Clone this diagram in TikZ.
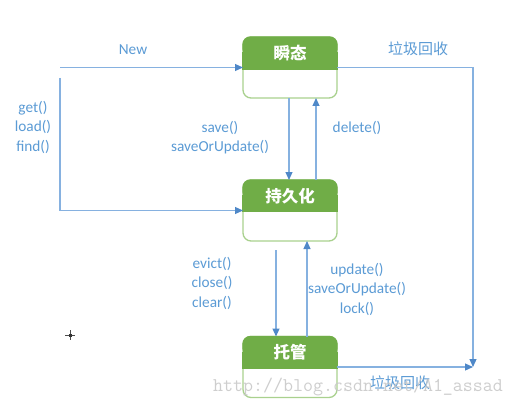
\documentclass[tikz,border=0pt]{standalone}
\usepackage{fontspec}
\setmainfont{Carlito}
\newfontfamily\cjk{Noto Sans CJK SC}
\usetikzlibrary{arrows.meta,positioning,calc}
\definecolor{hdrgreen}{HTML}{70AD47}
\definecolor{bordergreen}{HTML}{A9D18E}
\definecolor{linkblue}{HTML}{86B1E0}
\definecolor{tipblue}{HTML}{4F88C8}
\definecolor{txtblue}{HTML}{5B9BD5}
\definecolor{wmgray}{HTML}{C9C9C9}
\tikzset{
  statebox/.style={draw=bordergreen, line width=1.3pt, fill=white, rounded corners=8pt,
    minimum width=94pt, minimum height=61pt, inner sep=0pt, outer sep=0pt},
  hdrtext/.style={text=white, font=\cjk\bfseries\fontsize{16.5}{18}\selectfont, inner sep=0pt},
  conn/.style={draw=linkblue, line width=1.2pt, -{Triangle[length=8pt,width=7pt,fill=tipblue,color=tipblue]}},
  plainline/.style={draw=linkblue, line width=1.2pt},
  lbl/.style={text=txtblue, font=\fontsize{15.3}{19.5}\selectfont, align=center, inner sep=0pt},
  cjklbl/.style={text=txtblue, font=\cjk\fontsize{15}{18}\selectfont, inner sep=0pt},
  wm/.style={text=wmgray, font=\ttfamily\fontsize{19.4}{22}\selectfont, inner sep=0pt, opacity=0.9}
}
\newcommand{\headerfill}[2]{%
  \fill[hdrgreen, rounded corners=8pt] ([xshift=-0.65pt,yshift=0.65pt]#1.north west) rectangle ([xshift=0.65pt,yshift=-20pt]#1.north east);
  \fill[hdrgreen] ([xshift=-0.65pt,yshift=-15pt]#1.north west) rectangle ([xshift=0.65pt,yshift=-#2pt]#1.north east);
}
\begin{document}
\begin{tikzpicture}[x=1pt,y=-1pt]
\fill[white] (0,0) rectangle (514,409);
\useasboundingbox (0,0) rectangle (514,409);

% state boxes
\node[statebox] (tr) at (290,67.5) {};
\node[statebox] (pe) at (290,210.5) {};
\node[statebox] (mg) at (290,367) {};
\headerfill{tr}{33}
\headerfill{pe}{32}
\headerfill{mg}{32}
\node[hdrtext] (trh) at ([yshift=-16.5pt]tr.north) {瞬态};
\node[hdrtext] (peh) at ([yshift=-16pt]pe.north) {持久化};
\node[hdrtext] (mgh) at ([yshift=-16pt]mg.north) {托管};

% free ends
\coordinate (newstart) at (60,67.5);
\coordinate (getstart) at (60,78);
\coordinate (gc) at (473,367);

% connectors
\draw[conn] (newstart) -- (tr.west);
\draw[conn] (getstart) |- (pe.west);
\draw[conn] ([xshift=-1pt]tr.south) -- ([xshift=-1pt]pe.north);
\draw[conn] ([xshift=26pt]pe.north) -- ([xshift=26pt]tr.south);
\draw[conn] ([xshift=-14pt,yshift=-9pt]pe.south) -- ([xshift=-14pt]mg.north);
\draw[conn] ([xshift=17pt]mg.north) -- ([xshift=17pt]pe.south);
\draw[conn] (tr.east) -| (gc);
\draw[conn] (mg.east) -- (gc);

% labels
\node[lbl] (lnew) at (133,50) {New};
\node[lbl] (lget) at (33,127) {get()\\load()\\find()};
\node[lbl] (lsave) at (220,137.5) {save()\\saveOrUpdate()};
\node[lbl] (ldel) at (357,128) {delete()};
\node[lbl] (levict) at (212,283) {evict()\\close()\\clear()};
\node[lbl] (lupd) at (357,289) {update()\\saveOrUpdate()\\lock()};
\node[cjklbl] (lgc1) at (418,49) {垃圾回收};
\node[cjklbl] (lgc2) at (400,383) {垃圾回收};

% cursor mark
\draw[black!70, line width=1pt] (65,335) -- (75,335) (70,330) -- (70,340);
\fill[black!80] (68.5,333.5) rectangle (71.5,336.5);

% watermark
\node[wm, anchor=base west] (wmark) at (213,391) {http://blog.csdn.net/A1\_assad};
\end{tikzpicture}
\end{document}
